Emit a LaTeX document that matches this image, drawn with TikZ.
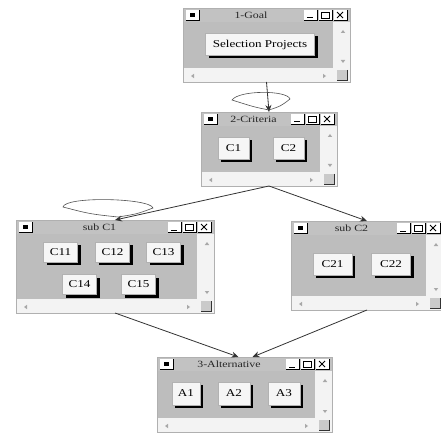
\documentclass[tikz,border=0pt]{standalone}
\usepackage{fontspec}
\setmainfont[FakeStretch=1.25]{Liberation Serif}
\usetikzlibrary{arrows.meta,shadows,calc}
\definecolor{titlegray}{HTML}{C2C2C2}
\definecolor{contentgray}{HTML}{BDBDBD}
\definecolor{scrollwhite}{HTML}{F3F3F3}
\definecolor{arrowgray}{HTML}{A8A8A8}
\definecolor{linegray}{HTML}{333333}
\definecolor{btnface}{HTML}{F6F6F6}
\definecolor{borderg}{HTML}{B0B0B0}
\tikzset{
  winframe/.style={inner sep=0pt, outer sep=0pt},
  titletext/.style={font=\fontsize{9.5}{10}\selectfont, text=black!85, inner sep=0pt},
  arr/.style={draw=linegray, line width=0.8pt, -{Stealth[length=7pt,width=6pt]}},
  loopl/.style={draw=linegray!85, line width=0.6pt},
  btn/.style={draw=gray!60, fill=btnface, inner sep=0pt, outer sep=0pt,
    font=\fontsize{10.5}{12}\selectfont,
    general shadow={fill=black, shadow xshift=3pt, shadow yshift=-3pt}},
}
% small 3D box, top-left at (#1,#2)
\newcommand\tbtn[2]{%
  \fill[white] (#1,#2) rectangle ({#1+13},{#2+10});
  \draw[black, line width=0.9pt] ({#1+13},#2) -- ({#1+13},{#2+10}) -- (#1,{#2+10});
}
% window: name, x1, y1, x2, y2, title
\newcommand\drawwin[6]{%
  \node[winframe, minimum width={#4-#2}, minimum height={#5-#3}] (#1) at ({(#2+#4)/2},{(#3+#5)/2}) {};
  \fill[titlegray] (#2,#3) rectangle (#4,{#3+14});
  \fill[contentgray] (#2,{#3+14}) rectangle ({#4-17},{#5-14});
  \fill[scrollwhite] ({#4-17},{#3+14}) rectangle (#4,#5);
  \fill[scrollwhite] (#2,{#5-14}) rectangle (#4,#5);
  % scroll arrows
  \fill[arrowgray] ({#4-7},{#3+22}) -- ++(-2.2,3) -- ++(4.4,0) -- cycle;
  \fill[arrowgray] ({#4-7},{#5-19}) -- ++(-2.2,-3) -- ++(4.4,0) -- cycle;
  \fill[arrowgray] ({#2+8},{#5-6}) -- ++(3,-2.2) -- ++(0,4.4) -- cycle;
  \fill[arrowgray] ({#4-24},{#5-6}) -- ++(-3,-2.2) -- ++(0,4.4) -- cycle;
  % resize grip
  \fill[contentgray!80] ({#4-13},{#5-12}) rectangle ({#4-3},{#5-2});
  \draw[black!80, line width=0.8pt] ({#4-3},{#5-12}) -- ({#4-3},{#5-2}) -- ({#4-13},{#5-2});
  % system icon
  \tbtn{#2+3}{#3+2}
  \fill[black] ({#2+7},{#3+5}) rectangle ({#2+12},{#3+9});
  % title buttons
  \tbtn{#4-46}{#3+2}
  \draw[black, line width=1pt] ({#4-43},{#3+10}) -- ({#4-37},{#3+10});
  \tbtn{#4-31}{#3+2}
  \draw[black, line width=0.6pt] ({#4-29},{#3+4}) rectangle ({#4-21},{#3+10});
  \draw[black, line width=1pt] ({#4-29},{#3+4.3}) -- ({#4-21},{#3+4.3});
  \tbtn{#4-16}{#3+2}
  \draw[black, line width=0.9pt] ({#4-13},{#3+4}) -- ({#4-7},{#3+10}) ({#4-13},{#3+10}) -- ({#4-7},{#3+4});
  \node[titletext] at ({(#2+15+#4-46)/2},{#3+7.5}) {#6};
  \draw[borderg, line width=0.5pt] (#1.north west) rectangle (#1.south east);
}
\begin{document}
\begin{tikzpicture}[x=1pt,y=-1pt]
\useasboundingbox (0,0) rectangle (441,438);
\fill[white] (0,0) rectangle (441,438);
\clip (0,0) rectangle (441,438);

\drawwin{goal}{183}{8}{350}{82}{1-Goal}
\node[btn, minimum width=109, minimum height=22] (sp) at (260,44.5) {Selection Projects};

\drawwin{crit}{201}{112}{337}{186}{2-Criteria}
\node[btn, minimum width=31, minimum height=22] (c1) at (233.5,148.5) {C1};
\node[btn, minimum width=31, minimum height=22] (c2) at (288.5,148.5) {C2};

\drawwin{subc1}{16}{220}{214}{313}{sub C1}
\node[btn, minimum width=34, minimum height=20] (c11) at (60.5,252) {C11};
\node[btn, minimum width=34, minimum height=20] (c12) at (112.5,252) {C12};
\node[btn, minimum width=34, minimum height=20] (c13) at (163.5,252) {C13};
\node[btn, minimum width=34, minimum height=20] (c14) at (79.5,284.5) {C14};
\node[btn, minimum width=34, minimum height=20] (c15) at (138.5,284.5) {C15};

\drawwin{subc2}{291}{221}{443}{310}{sub C2}
\node[btn, minimum width=39, minimum height=22] (c21) at (332.5,264) {C21};
\node[btn, minimum width=39, minimum height=22] (c22) at (391,264) {C22};

\drawwin{alt}{157}{357}{332}{432}{3-Alternative}
\node[btn, minimum width=28, minimum height=23] (a1) at (186,393.5) {A1};
\node[btn, minimum width=32, minimum height=23] (a2) at (234,393.5) {A2};
\node[btn, minimum width=32, minimum height=23] (a3) at (284,393.5) {A3};

% connectors
\draw[arr] (goal.south) -- (crit.north);
\draw[arr] (crit.south) -- (subc1.north);
\draw[arr] (crit.south) -- (subc2.north);
\draw[arr] (subc1.south) -- ([xshift=-6pt]alt.north);
\draw[arr] (subc2.south) -- ([xshift=8pt]alt.north);

% self loops
\draw[loopl] ($(crit.north)+(0,-2)$) .. controls ($(crit.north)+(-15,-5)$) .. ($(crit.north)+(-37,-12)$)
  .. controls ($(crit.north)+(-30,-22)$) and ($(crit.north)+(18,-22)$) .. ($(crit.north)+(21,-13)$)
  .. controls ($(crit.north)+(12,-6)$) .. ($(crit.north)+(0,-2)$);
\draw[loopl] ($(subc1.north)+(3,-3)$) .. controls ($(subc1.north)+(-25,-6)$) .. ($(subc1.north)+(-52,-13)$)
  .. controls ($(subc1.north)+(-50,-24)$) and ($(subc1.north)+(35,-22)$) .. ($(subc1.north)+(38,-12)$)
  .. controls ($(subc1.north)+(22,-6)$) .. ($(subc1.north)+(3,-3)$);
\end{tikzpicture}
\end{document}
